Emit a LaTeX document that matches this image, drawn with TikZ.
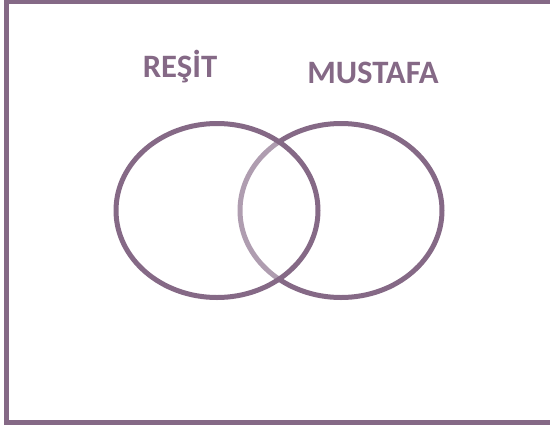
\documentclass[tikz,border=0pt]{standalone}
\usepackage{fontspec}
\setmainfont{Carlito}
\usetikzlibrary{positioning,shapes.geometric}
\definecolor{venn}{RGB}{133,105,134}

\begin{document}
\begin{tikzpicture}[x=0.75pt,y=-0.75pt, every node/.style={font=\bfseries\fontsize{24.5}{28}\selectfont, text=venn},
  set/.style={draw=venn,ellipse,line width=3.75pt,inner sep=0pt,minimum width=151.5pt,minimum height=130.5pt}]
        \useasboundingbox (0,0) rectangle (550,426);
        \begin{scope}
        \clip (0,0) rectangle (550,426);
        \draw[venn,line width=3.75pt] (6.5,1.5) rectangle (570,422.5);
        \end{scope}
        \node[set] (mustafa) at (341,210.5) {};
        \node[set,fill=white,fill opacity=0.35] (resit) at (217,210.5) {};
        \node[anchor=base] (lresit) at (180,77.7) {REŞİT};
        \node[anchor=base] (lmustafa) at (373,83) {MUSTAFA};
      \end{tikzpicture}
\end{document}
